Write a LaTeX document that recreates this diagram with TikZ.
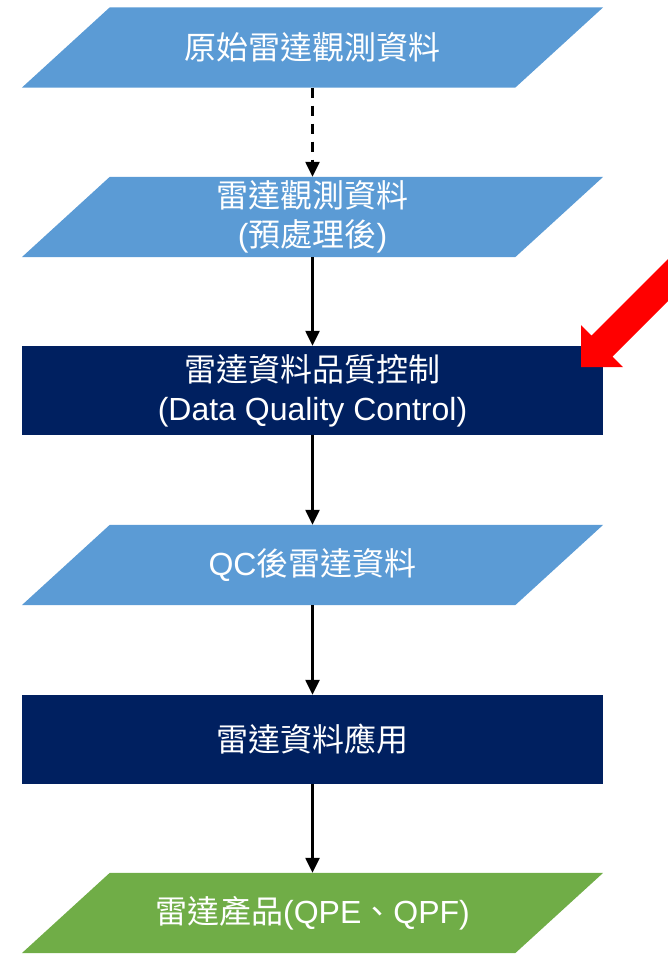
\documentclass[tikz,border=0pt]{standalone}
\usepackage{fontspec}
\setmainfont{Liberation Sans}
\newfontfamily\cjk{Noto Sans CJK TC}
\usetikzlibrary{arrows.meta,backgrounds,calc}
\definecolor{dataBlue}{HTML}{5B9BD5}
\definecolor{procNavy}{HTML}{002060}
\definecolor{prodGreen}{HTML}{70AD47}
\definecolor{markRed}{HTML}{FF0000}
\tikzset{
  base/.style={inner sep=0pt, minimum width=581pt, text=white, align=center,
    font=\fontsize{32}{39}\selectfont},
  databox/.style={base, minimum height=80pt},
  procbox/.style={base, minimum height=89pt, fill=procNavy},
  flow/.style={line width=2.4pt, -{Triangle[length=15pt,width=14pt]}},
  dflow/.style={flow, dash pattern=on 10pt off 8pt},
}
\newcommand{\paraFill}[2]{%
  \fill[#2] ([xshift=88pt]#1.north west) -- (#1.north east)
    -- ([xshift=-88pt]#1.south east) -- (#1.south west) -- cycle;}
\begin{document}
\begin{tikzpicture}[x=1pt,y=-1pt]
\useasboundingbox (0,0) rectangle (668,954);
\node[databox] (p1) at (312.5,47.5) {{\cjk 原始雷達觀測資料}};
\node[databox] (p2) at (312.5,217) {{\cjk 雷達觀測資料}\\({\cjk 預處理後})};
\node[procbox] (r1) at (312.5,390.5) {{\cjk 雷達資料品質控制}\\(Data Quality Control)};
\node[databox] (p3) at (312.5,565) {QC{\cjk 後雷達資料}};
\node[procbox] (r2) at (312.5,739.5) {{\cjk 雷達資料應用}};
\node[databox] (p4) at (312.5,913) {{\cjk 雷達產品}(QPE{\cjk 、}QPF)};
\begin{scope}[on background layer]
  \paraFill{p1}{dataBlue}
  \paraFill{p2}{dataBlue}
  \paraFill{p3}{dataBlue}
  \paraFill{p4}{prodGreen}
\end{scope}
\draw[dflow] (p1.south) -- (p2.north);
\draw[flow] (p2.south) -- (r1.north);
\draw[flow] (r1.south) -- (p3.north);
\draw[flow] (p3.south) -- (r2.north);
\draw[flow] (r2.south) -- (p4.north);
% red pointer arrow
\fill[markRed] (581,367) -- (581,325) -- (591.5,335.5) -- (688.5,238.5)
  -- (709.5,259.5) -- (612.5,356.5) -- (623,367) -- cycle;
\end{tikzpicture}
\end{document}
